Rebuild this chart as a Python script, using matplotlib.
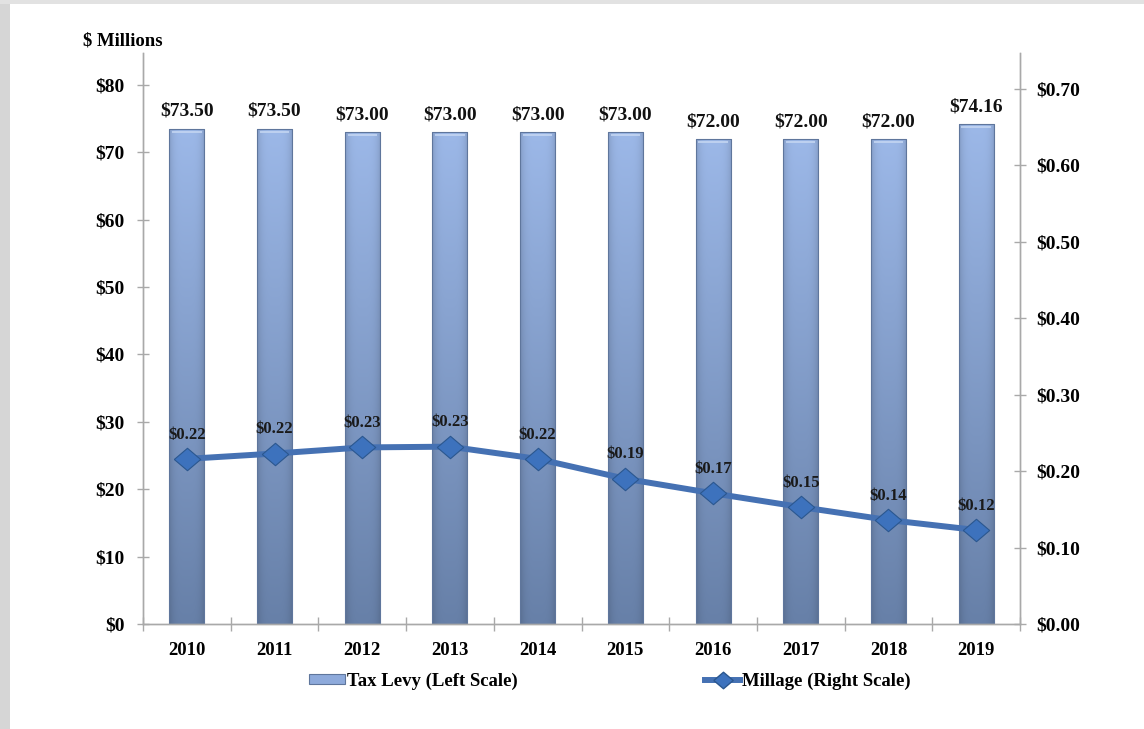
import numpy as np
import matplotlib
matplotlib.use("Agg")
import matplotlib.pyplot as plt
from matplotlib.patches import Rectangle
from matplotlib.lines import Line2D
from matplotlib.colors import to_rgb

years = ["2010", "2011", "2012", "2013", "2014", "2015", "2016", "2017", "2018", "2019"]
tax_levy = [73.50, 73.50, 73.00, 73.00, 73.00, 73.00, 72.00, 72.00, 72.00, 74.16]
millage = [0.216, 0.223, 0.231, 0.232, 0.216, 0.190, 0.171, 0.153, 0.136, 0.123]
left_ticks = [0, 10, 20, 30, 40, 50, 60, 70, 80]
right_ticks = [0.0, 0.1, 0.2, 0.3, 0.4, 0.5, 0.6, 0.7]

plt.rcParams['font.family'] = ['Liberation Serif', 'DejaVu Serif']
plt.rcParams['font.weight'] = 'bold'

W, H = 1144, 729
fig = plt.figure(figsize=(W / 100, H / 100), dpi=100)
fig.patch.set_facecolor('white')

# gray frame strips
fig.patches.append(Rectangle((0, 0), 10 / W, 1, transform=fig.transFigure,
                             facecolor='#d6d6d6', edgecolor='none', zorder=0))
fig.patches.append(Rectangle((0, 1 - 4 / H), 1, 4 / H, transform=fig.transFigure,
                             facecolor='#e2e2e2', edgecolor='none', zorder=0))

ax = fig.add_axes([143 / W, 1 - 624 / H, (1020 - 143) / W, (624 - 53) / H])
ax2 = ax.twinx()

x = np.arange(len(years))
axis_col = '#a9a9a9'

bars = ax.bar(x, tax_levy, width=0.4, facecolor='none', edgecolor='#5f769c',
              linewidth=0.8, zorder=2)

top_c = np.array(to_rgb('#9cb8e8'))
bot_c = np.array(to_rgb('#6780a8'))
ny, nx = 200, 40
t = np.linspace(0, 1, ny)[:, None, None]
vert = top_c[None, None, :] * (1 - t) + bot_c[None, None, :] * t
u = np.linspace(-1, 1, nx)
horiz = 1 - 0.14 * np.abs(u) ** 4
grad = vert * horiz[None, :, None]
for b in bars:
    x0, w, h = b.get_x(), b.get_width(), b.get_height()
    im = ax.imshow(grad, extent=(x0, x0 + w, 0, h), aspect='auto',
                   origin='upper', zorder=1.9, interpolation='bilinear')
    im.set_clip_path(b)
    # top bevel highlight
    ax.plot([x0 + w * 0.08, x0 + w * 0.92], [h - 0.45, h - 0.45],
            color='#c4d6f2', linewidth=1.2, zorder=2.1, solid_capstyle='butt')

for b, v in zip(bars, tax_levy):
    ax.annotate(f"${v:.2f}", (b.get_x() + b.get_width() / 2, b.get_height()),
                xytext=(0, 12.3), textcoords='offset points', ha='center',
                va='center', fontsize=14, fontweight='bold', color='#111111')

ax.set_xlim(-0.5, len(years) - 0.5)
ax.set_ylim(0, 84.7)
ax2.set_ylim(0, 0.747)
ax.set_xticks(x)
ax.set_xticklabels(years)
ax.set_xticks(np.arange(-0.5, len(years), 1.0), minor=True)
ax.tick_params(axis='x', which='major', length=0, pad=13, labelsize=13.5)
ax.tick_params(axis='x', which='minor', length=10, direction='inout',
               color=axis_col, width=1)
ax.set_yticks(left_ticks)
ax.set_yticklabels([f"${v}" for v in left_ticks])
ax.tick_params(axis='y', length=8, direction='inout', color=axis_col, width=1,
               pad=9, labelsize=14)
ax2.set_yticks(right_ticks)
ax2.set_yticklabels([f"${v:.2f}" for v in right_ticks])
ax2.tick_params(axis='y', length=8, direction='inout', color=axis_col, width=1,
                pad=8, labelsize=14)

for a in (ax, ax2):
    a.spines['top'].set_visible(False)
    for s in ('left', 'right', 'bottom'):
        a.spines[s].set_color(axis_col)
        a.spines[s].set_linewidth(1)
    a.set_facecolor('none')

diamond = [(-1, 0), (0, 0.85), (1, 0), (0, -0.85), (-1, 0)]
ax2.plot(x, millage, color='#4571b3', linewidth=4.3, zorder=3,
         marker=diamond, markersize=19, markerfacecolor='#3d72bd',
         markeredgecolor='#2b578f', markeredgewidth=0.8)

for xi, v in zip(x, millage):
    ax2.annotate(f"${v:.2f}", (xi, v), xytext=(0, 17.5), textcoords='offset points',
                 ha='center', va='center', fontsize=12, fontweight='bold',
                 color='#1a1a1a')

fig.text(123 / W, 1 - 41 / H, "$ Millions", ha='center', va='center',
         fontsize=13.5, fontweight='bold')

h1 = Rectangle((0, 0), 1, 1, facecolor='#8eaadb', edgecolor='#5f769c', linewidth=0.8)
h2 = Line2D([0], [0], color='#4571b3', linewidth=4.3, marker=diamond, markersize=14,
            markerfacecolor='#3d72bd', markeredgecolor='#2b578f')
leg = fig.legend([h1, h2], ["Tax Levy (Left Scale)", "Millage (Right Scale)"],
                 loc='center', bbox_to_anchor=(610 / W, 1 - 681 / H), ncol=2,
                 frameon=False, fontsize=13.5, handlelength=1.9, handleheight=0.45,
                 handletextpad=0.1, columnspacing=10.0)

fig.savefig("out.png", dpi=100, facecolor='white')
